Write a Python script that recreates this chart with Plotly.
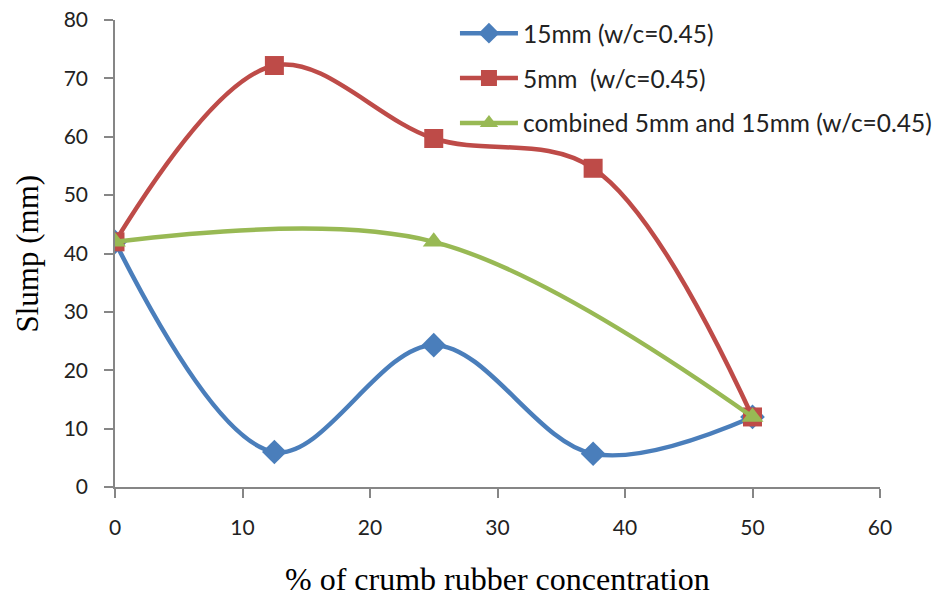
import plotly.graph_objects as go

# Crumb rubber content (%) and measured slump (mm)
rubber_pct = [0, 12.5, 25, 37.5, 50]
slump_15mm = [42, 6, 24.3, 5.7, 12]
slump_5mm = [42, 72.2, 59.7, 54.6, 12]
rubber_pct_combined = [0, 25, 50]
slump_combined = [42, 42, 12]

series_names = [
    "15mm (w/c=0.45)",
    "5mm  (w/c=0.45)",
    "combined 5mm and 15mm (w/c=0.45)",
]

BLUE = "#4A7EBB"
RED = "#BE4B48"
GREEN = "#98B954"
AXIS = "#868686"
SANS = "Lato, 'Open Sans', sans-serif"
SERIF = "'Liberation Serif', 'Times New Roman', serif"
TICK_FONT = dict(family=SANS, size=21, color="#222222")

fig = go.Figure()

fig.add_trace(go.Scatter(
    x=rubber_pct, y=slump_15mm, name=series_names[0], legendgroup="a",
    mode="lines+markers",
    line=dict(color=BLUE, width=4.5, shape="spline", smoothing=1.0),
    marker=dict(symbol="diamond", size=19, color=BLUE),
))
fig.add_trace(go.Scatter(
    x=rubber_pct, y=slump_5mm, name=series_names[1], legendgroup="b",
    mode="lines+markers",
    line=dict(color=RED, width=4.5, shape="spline", smoothing=1.0),
    marker=dict(symbol="square", size=19, color=RED),
))
fig.add_trace(go.Scatter(
    x=rubber_pct_combined, y=slump_combined, name=series_names[2], legendgroup="c",
    mode="lines+markers",
    line=dict(color=GREEN, width=4.5, shape="spline", smoothing=1.0),
    marker=dict(symbol="triangle-up", size=19, color=GREEN),
))

fig.update_layout(
    width=940, height=599,
    margin=dict(l=115, r=60, t=20, b=112, autoexpand=False),
    paper_bgcolor="white", plot_bgcolor="white",
    showlegend=True,
    legend=dict(
        xref="container", yref="container",
        x=0.484, y=0.982, xanchor="left", yanchor="top",
        font=dict(family=SANS, size=24.5, color="#222222"),
        bgcolor="rgba(0,0,0,0)", tracegroupgap=10, itemwidth=58,
    ),
    xaxis=dict(
        range=[0, 60], dtick=10, tick0=0,
        showgrid=False, zeroline=False,
        showline=True, linecolor=AXIS, linewidth=1.5,
        ticks="outside", ticklen=9, tickcolor=AXIS, tickwidth=1.5,
        tickfont=TICK_FONT, ticklabelstandoff=12,
    ),
    yaxis=dict(
        range=[0, 80], dtick=10, tick0=0,
        showgrid=False, zeroline=False,
        showline=True, linecolor=AXIS, linewidth=1.5,
        ticks="outside", ticklen=9, tickcolor=AXIS, tickwidth=1.5,
        tickfont=TICK_FONT, ticklabelstandoff=12,
    ),
    annotations=[
        dict(
            text="% of crumb rubber concentration",
            xref="paper", yref="paper", x=0.5, y=-0.197,
            xanchor="center", yanchor="middle", showarrow=False,
            font=dict(family=SERIF, size=32, color="black"),
        ),
        dict(
            text="Slump (mm)",
            xref="paper", yref="paper", x=-0.115, y=0.5,
            xanchor="center", yanchor="middle", showarrow=False, textangle=-90,
            font=dict(family=SERIF, size=31, color="black"),
        ),
    ],
)

fig.write_html("out.html")
